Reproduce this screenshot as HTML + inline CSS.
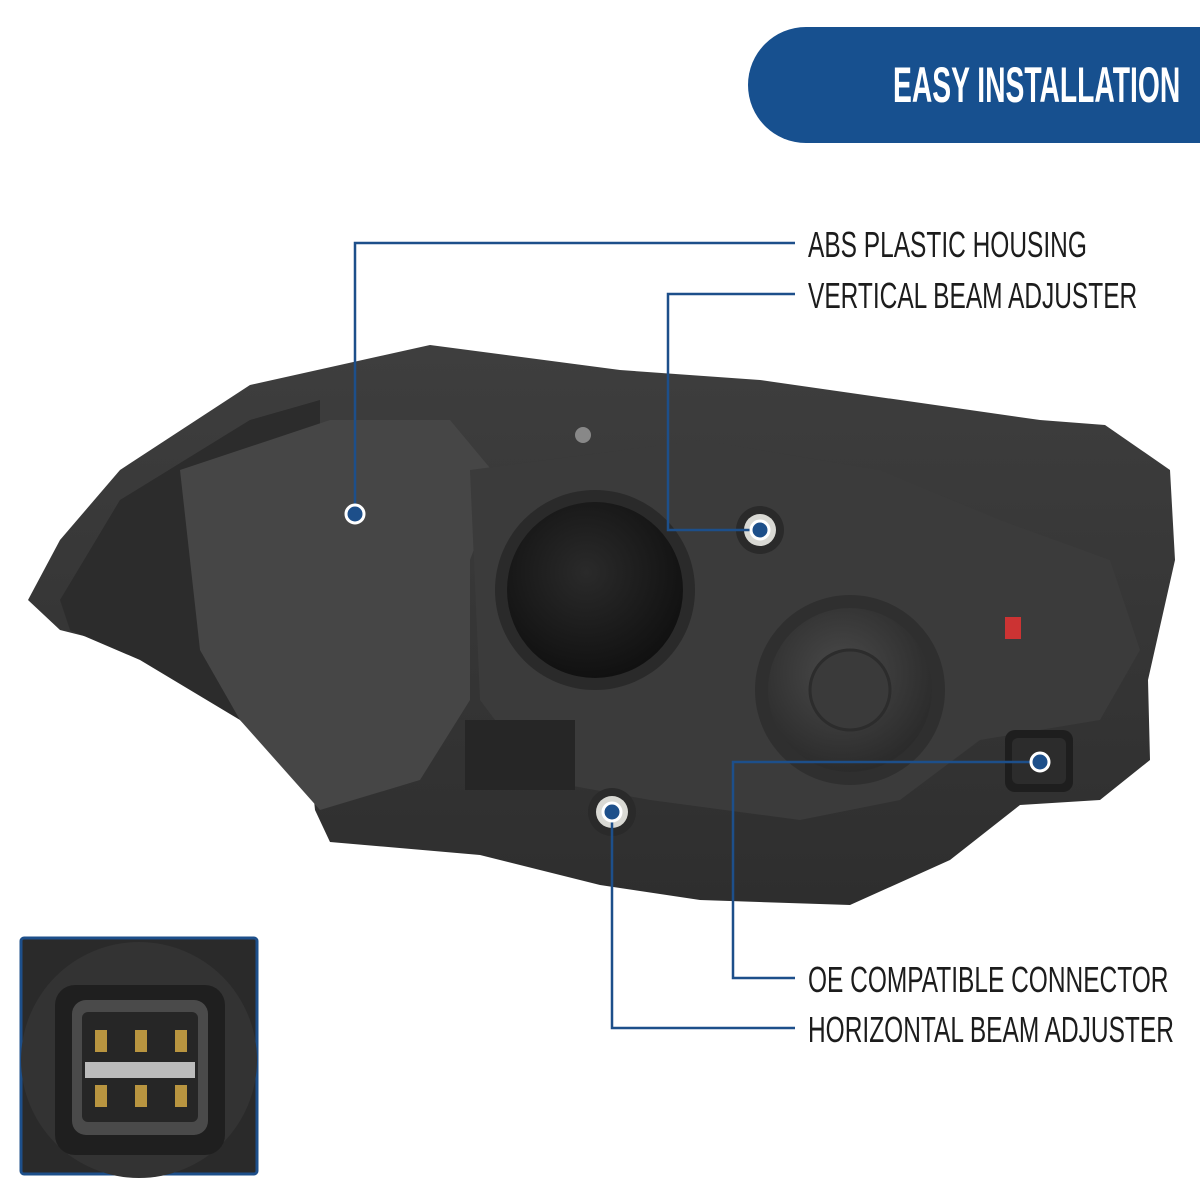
<!DOCTYPE html>
<html><head><meta charset="utf-8"><style>
html,body{margin:0;padding:0;background:#fff;}
body{width:1200px;height:1200px;position:relative;overflow:hidden;font-family:"Liberation Sans",sans-serif;}
.banner{position:absolute;left:748px;top:27px;width:452px;height:116px;background:#17508f;border-radius:58px 0 0 58px;overflow:hidden;}
.banner span{position:absolute;left:145px;top:29px;color:#fff;font-size:50px;font-weight:bold;white-space:nowrap;transform:scaleX(0.565);transform-origin:0 0;}
.lbl{position:absolute;left:808px;color:#1c1c1c;font-size:36px;white-space:nowrap;transform:scaleX(0.68);transform-origin:0 0;}
</style></head><body>
<svg width="1200" height="1200" style="position:absolute;left:0;top:0">
<defs>
<radialGradient id="g1" cx="45%" cy="40%" r="60%"><stop offset="0" stop-color="#2a2a2a"/><stop offset="1" stop-color="#111"/></radialGradient>
<radialGradient id="g2" cx="45%" cy="40%" r="60%"><stop offset="0" stop-color="#4a4a4a"/><stop offset="1" stop-color="#2b2b2b"/></radialGradient>
<linearGradient id="body" x1="0" y1="0" x2="0" y2="1"><stop offset="0" stop-color="#3e3e3e"/><stop offset="1" stop-color="#2e2e2e"/></linearGradient>
</defs>
<path d="M28,600 L60,540 L120,470 L250,385 L430,345 L620,370 L760,380 L1040,420 L1105,425 L1170,470 L1175,560 L1148,680 L1150,760 L1100,800 L1020,805 L950,860 L850,905 L700,900 L600,885 L480,855 L330,842 L315,810 L310,760 L240,700 L140,650 L60,630 Z" fill="url(#body)"/>
<path d="M60,600 L120,500 L250,420 L320,400 L320,800 L240,720 L140,660 L70,630 Z" fill="#2c2c2c"/>
<path d="M180,470 L330,420 L450,420 L500,480 L470,560 L470,700 L420,780 L320,810 L240,720 L200,650 Z" fill="#464646"/>
<path d="M470,470 L700,440 L880,470 L1000,520 L1110,560 L1140,650 L1100,720 L980,740 L900,800 L800,820 L650,800 L540,780 L480,700 Z" fill="#3b3b3b"/>
<circle cx="595" cy="590" r="100" fill="#2a2a2a"/>
<circle cx="595" cy="590" r="88" fill="url(#g1)"/>
<circle cx="850" cy="690" r="95" fill="#2f2f2f"/>
<circle cx="850" cy="690" r="82" fill="url(#g2)"/>
<circle cx="850" cy="690" r="40" fill="#3a3a3a" stroke="#2c2c2c" stroke-width="3"/>
<rect x="465" y="720" width="110" height="70" fill="#262626"/>
<rect x="1005" y="730" width="68" height="62" rx="10" fill="#1e1e1e"/>
<rect x="1012" y="738" width="54" height="46" rx="6" fill="#2c2c2c"/>
<rect x="1005" y="617" width="16" height="22" fill="#c33"/>
<circle cx="760" cy="530" r="24" fill="#2a2a2a"/>
<circle cx="612" cy="812" r="24" fill="#2a2a2a"/>
<circle cx="760" cy="530" r="16" fill="#d9d9d4"/>
<circle cx="612" cy="812" r="16" fill="#d9d9d4"/>
<circle cx="583" cy="435" r="8" fill="#888"/>
<g stroke="#1d4f8a" stroke-width="2.5" fill="none">
<polyline points="355,514 355,243 795,243"/>
<polyline points="760,530 668,530 668,294 795,294"/>
<polyline points="1040,762 733,762 733,978 795,978"/>
<polyline points="612,812 612,1028 795,1028"/>
</g>
<g fill="#1d4f8a" stroke="#fff" stroke-width="3">
<circle cx="355" cy="514" r="9"/><circle cx="760" cy="530" r="9"/><circle cx="1040" cy="762" r="9"/><circle cx="612" cy="812" r="9"/>
</g>
<rect x="21" y="938" width="236" height="236" rx="3" fill="#2a2a2a" stroke="#1d4f8a" stroke-width="3"/>
<circle cx="139" cy="1060" r="118" fill="#333"/>
<rect x="55" y="985" width="170" height="170" rx="20" fill="#1f1f1f"/>
<rect x="72" y="1000" width="136" height="135" rx="14" fill="#4a4a4a"/>
<rect x="82" y="1012" width="116" height="110" rx="6" fill="#262626"/>
<rect x="85" y="1062" width="110" height="16" fill="#bbb"/>
<g fill="#b99540"><rect x="95" y="1030" width="12" height="22"/><rect x="135" y="1030" width="12" height="22"/><rect x="175" y="1030" width="12" height="22"/><rect x="95" y="1085" width="12" height="22"/><rect x="135" y="1085" width="12" height="22"/><rect x="175" y="1085" width="12" height="22"/></g>
</svg>
<div class="banner"><span>EASY INSTALLATION</span></div>
<div class="lbl" style="top:224px">ABS PLASTIC HOUSING</div>
<div class="lbl" style="top:275px">VERTICAL BEAM ADJUSTER</div>
<div class="lbl" style="top:959px">OE COMPATIBLE CONNECTOR</div>
<div class="lbl" style="top:1009px">HORIZONTAL BEAM ADJUSTER</div>
</body></html>
